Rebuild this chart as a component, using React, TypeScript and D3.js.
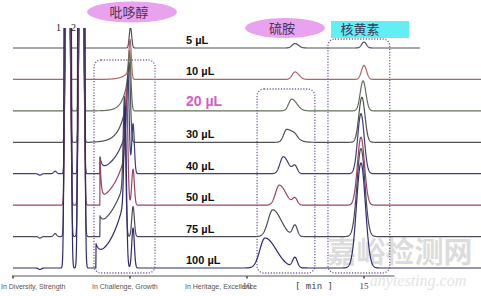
import React from 'react';
import * as d3 from 'd3';

const W = 481;
const H = 296;

// ---- data ----
const volumes = ['5 µL', '10 µL', '20 µL', '30 µL', '40 µL', '50 µL', '75 µL', '100 µL'];
const traceColors = ['#505062', '#b06464', '#62705a', '#505050', '#3e3e78', '#9a4468', '#4a4a58', '#302a6c'];
const runEnd = [17.4, 20, 20, 20, 20, 20, 20, 20];

// early eluting peaks 1 and 2 (off-scale)
const peak1Time = 2.34;
const peak2Time = 2.92;
const earlyHeight = [200, 400, 800, 1300, 2000, 3000, 5000, 8000];
const earlySigma = [0.045, 0.047, 0.05, 0.052, 0.054, 0.056, 0.058, 0.06];

// pyridoxine (吡哆醇)
const pyrTime = [5.02, 5.0, 4.98, 4.96, 4.91, 4.85, 4.76, 4.79];
const pyrSharp = [21, 30, 14, 20, 50, 60, 85, 90];
const pyrFrontAmp = [0, 10, 46, 60, 49, 56, 55, 72];
const pyrFrontRise = [0.2, 0.25, 0.217, 0.29, 0.51, 0.55, 0.714, 0.67];
const pyrFrontStart = [4.5, 4.0, 3.5, 3.3, 3.72, 3.72, 3.72, 3.55];
const pyrSpike = [0, 0, 0, 0, 12, 40, 8, 13];
const pyrSpikeDecay = [0.05, 0.05, 0.05, 0.05, 0.08, 0.05, 0.1, 0.15];
const pyrSplitTime = 5.13;
const pyrSplit = [0, 0, 0, 0, 50, 36, 30, 40];

// thiamine (硫胺)
const thiaTime = [12.05, 12.05, 11.91, 11.7, 11.55, 11.38, 11.1, 10.77];
const thiaHeight = [4.5, 7.5, 11.7, 13, 17, 20, 26.7, 30];
const thiaLeftSigma = [0.12, 0.12, 0.13, 0.13, 0.14, 0.16, 0.2, 0.22];
const thiaRightSigma = [0.15, 0.17, 0.22, 0.32, 0.22, 0.28, 0.36, 0.48];
const thiaSecondTime = 12.05;
const thiaSecond = [0, 0, 0, 2, 7.5, 6.5, 11, 10];

// riboflavin (核黄素)
const riboTime = [15.0, 15.0, 14.96, 14.91, 14.87, 14.87, 14.87, 14.87];
const riboHeight = [6, 14, 30, 45, 60, 68, 88, 105];
const riboSigma = [0.1, 0.11, 0.12, 0.13, 0.14, 0.15, 0.17, 0.19];

// small baseline disturbances
const bumpTime = 1.8;
const bumpHeight = [0, 0, 0, 0, 2.5, 0, 3, 0];
const dipTime = 1.15;
const dipHeight = [0, 0, 0, 0, -1.5, 0, -1.5, -1.5];

const axisTicks = [0, 5, 10, 15];
const axisLabels = [10, 15];
const compoundLabels = ['吡哆醇', '硫胺', '核黄素'];
const compoundWindows: [number, number][] = [[3.46, 6.07], [10.43, 12.9], [13.46, 16.1]];
const footerTexts = ['In Diversity, Strength', 'In Challenge, Growth', 'In Heritage, Excellence'];

// ---- helpers ----
const gauss = (t: number, c: number, s: number) => Math.exp(-0.5 * ((t - c) / s) ** 2);

function signal(i: number, t: number): number {
  let v = 0;
  v += earlyHeight[i] * (gauss(t, peak1Time, earlySigma[i]) + gauss(t, peak2Time, earlySigma[i]));
  const tp = pyrTime[i];
  if (t <= tp) {
    if (t >= pyrFrontStart[i]) v += pyrFrontAmp[i] * Math.exp(-(tp - t) / pyrFrontRise[i]);
  } else {
    v += pyrFrontAmp[i] * gauss(t, tp, 0.06);
  }
  v += pyrSharp[i] * gauss(t, tp, 0.05);
  if (t >= pyrFrontStart[i]) v += pyrSpike[i] * Math.exp(-(t - pyrFrontStart[i]) / pyrSpikeDecay[i]);
  v += pyrSplit[i] * gauss(t, pyrSplitTime, 0.055);
  const ts = thiaTime[i];
  v += thiaHeight[i] * gauss(t, ts, t < ts ? thiaLeftSigma[i] : thiaRightSigma[i]);
  v += thiaSecond[i] * gauss(t, thiaSecondTime, 0.1);
  v += riboHeight[i] * gauss(t, riboTime[i], riboSigma[i]);
  v += bumpHeight[i] * gauss(t, bumpTime, 0.06);
  v += dipHeight[i] * gauss(t, dipTime, 0.06);
  return v;
}

export default function App() {
  const x = d3.scaleLinear().domain([0, 20]).range([13, 481]);
  const yBase = d3.scalePoint<string>().domain(volumes).range([48, 268]);
  const ySig = d3.scaleLinear().domain([0, 100]).range([0, 100]);

  const paths = volumes.map((v, i) => {
    const pts = d3.range(0, runEnd[i] + 1e-9, 0.01).map((t) => [t, signal(i, t)] as [number, number]);
    const line = d3
      .line<[number, number]>()
      .x((d) => x(d[0]))
      .y((d) => (yBase(v) as number) - ySig(d[1]));
    return line(pts) as string;
  });

  const boxTops = [60, 89, 39];
  const boxBottom = 273;
  const axisY = 276;

  return (
    <svg
      width={W}
      height={H}
      style={{ position: 'fixed', left: 0, top: 0, background: '#fff' }}
      fontFamily="'Liberation Sans', Arial, sans-serif"
    >
      <defs>
        <clipPath id="plotClip">
          <rect x={0} y={28} width={W} height={H} />
        </clipPath>
      </defs>
      <rect x={0} y={0} width={W} height={H} fill="#fff" />

      {/* watermark */}
      <text x={400} y={263} textAnchor="middle" fontSize={29} fontWeight="bold" fill="#d4d4d4"
        fontFamily="'Noto Sans CJK SC', sans-serif" opacity={0.8}>嘉峪检测网</text>
      <text x={418} y={286} textAnchor="middle" fontSize={16} fontStyle="italic" fill="#e4e4e4"
        fontFamily="'Liberation Serif', serif">anytesting.com</text>

      {/* dotted boxes */}
      {compoundWindows.map((w, k) => (
        <rect key={k} x={x(w[0])} y={boxTops[k]} width={x(w[1]) - x(w[0])} height={boxBottom - boxTops[k]}
          rx={7} ry={7} fill="none" stroke="#7d5c9e" strokeWidth={1.3} strokeDasharray="1.2 1.6" />
      ))}

      {/* traces */}
      <g clipPath="url(#plotClip)">
        {paths.map((p, i) => (
          <path key={i} d={p} fill="none" stroke={traceColors[i]} strokeWidth={1.2} strokeLinejoin="round" />
        ))}
      </g>

      {/* volume labels */}
      {volumes.map((v, i) => (
        <text key={v} x={186} y={(yBase(v) as number) - (i === 2 ? 5 : 4)}
          fontSize={i === 2 ? 14 : 11} fontWeight="bold" fill={i === 2 ? '#d25ec8' : '#111'}>{v}</text>
      ))}

      {/* peak numbers */}
      <text x={58.5} y={31} textAnchor="middle" fontSize={10} fontFamily="'Liberation Serif', serif" fill="#222">1</text>
      <text x={73.5} y={31} textAnchor="middle" fontSize={10} fontFamily="'Liberation Serif', serif" fill="#222">2</text>

      {/* compound tags */}
      <ellipse cx={132} cy={12} rx={45} ry={10.5} fill="#e8a2ee" />
      <text x={129} y={17} textAnchor="middle" fontSize={13} fill="#4a3458"
        fontFamily="'Noto Sans CJK SC', sans-serif">{compoundLabels[0]}</text>
      <ellipse cx={285} cy={28} rx={40} ry={10} fill="#e8a2ee" />
      <text x={282} y={33} textAnchor="middle" fontSize={13} fill="#4a3458"
        fontFamily="'Noto Sans CJK SC', sans-serif">{compoundLabels[1]}</text>
      <rect x={331} y={21} width={78} height={17} fill="#62eef2" />
      <text x={360} y={34} textAnchor="middle" fontSize={13} fill="#3a3a5a"
        fontFamily="'Noto Sans CJK SC', sans-serif">{compoundLabels[2]}</text>

      {/* x axis */}
      <line x1={x(0) - 1} x2={x(16.3)} y1={axisY} y2={axisY} stroke="#555" strokeWidth={1} />
      {axisTicks.map((t) => (
        <line key={t} x1={x(t)} x2={x(t)} y1={axisY} y2={axisY + 2.5} stroke="#444" strokeWidth={1.5} />
      ))}
      {footerTexts.map((s, k) => (
        <text key={s} x={[1, 92, 185][k]} y={289} fontSize={7} fill="#555">{s}</text>
      ))}
      {axisLabels.map((t) => (
        <text key={'l' + t} x={x(t)} y={289} textAnchor="middle" fontSize={9}
          fontFamily="'Liberation Serif', serif" fill="#444">{t}</text>
      ))}
      <text x={314} y={289} textAnchor="middle" fontSize={9} fontFamily="'DejaVu Sans Mono', monospace"
        fill="#444">[ min ]</text>
    </svg>
  );
}
